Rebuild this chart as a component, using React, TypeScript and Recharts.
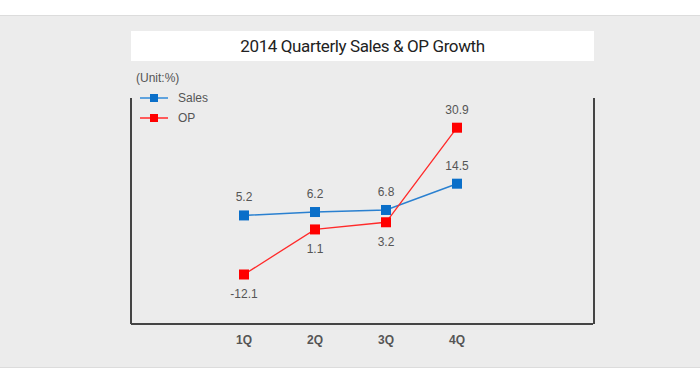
import React from "react";
import { LineChart, Line, XAxis, YAxis, LabelList } from "recharts";

const quarters = ["1Q", "2Q", "3Q", "4Q"];
const salesGrowth = [5.2, 6.2, 6.8, 14.5];
const opGrowth = [-12.1, 1.1, 3.2, 30.9];

const chartData = quarters.map((q, i) => ({
    q,
    sales: salesGrowth[i],
    op: opGrowth[i],
}));

const labelFont = "'Liberation Sans', Arial, sans-serif";

const SquareDot = (color: string) => (props: any) => {
    const { cx, cy, index } = props;
    if (cx == null || cy == null) return <g key={index} />;
    return <rect key={index} x={cx - 5} y={cy - 5} width={10} height={10} fill={color} />;
};

const SalesLabel = (props: any) => {
    const { x, y, value } = props;
    return (
        <text x={x} y={y - 14} textAnchor="middle" fill="#555" fontSize={12} fontFamily={labelFont}>
            {value}
        </text>
    );
};

// OP labels sit under the point, except the last one which goes on top
const OpLabel = (props: any) => {
    const { x, y, value, index } = props;
    const above = index === quarters.length - 1;
    return (
        <text
            x={x}
            y={above ? y - 14 : y + 24}
            textAnchor="middle"
            fill="#555"
            fontSize={12}
            fontFamily={labelFont}
        >
            {value}
        </text>
    );
};

const LegendBox = () => {
    const items = [
        { name: "Sales", line: "#5fa3de", box: "#0a6fc9" },
        { name: "OP", line: "#ff5a5a", box: "#ff0000" },
    ];
    return (
        <div>
            {items.map((it) => (
                <div key={it.name} style={{ display: "flex", alignItems: "center", height: 20 }}>
                    <svg width={28} height={10}>
                        <line x1={0} x2={28} y1={5} y2={5} stroke={it.line} strokeWidth={2} />
                        <rect x={10} y={1} width={8} height={8} fill={it.box} />
                    </svg>
                    <span
                        style={{
                            marginLeft: 10,
                            fontSize: 12,
                            color: "#555",
                            fontFamily: labelFont,
                        }}
                    >
                        {it.name}
                    </span>
                </div>
            ))}
        </div>
    );
};

export default function App() {
    return (
        <div
            style={{
                position: "absolute",
                left: 0,
                top: 0,
                width: 700,
                height: 370,
                background: "#fff",
                overflow: "hidden",
            }}
        >
            <div
                style={{
                    position: "absolute",
                    left: 0,
                    top: 15,
                    width: 700,
                    height: 353,
                    background: "#ececec",
                    borderTop: "1px solid #dcdcdc",
                    borderBottom: "1px solid #dcdcdc",
                    boxSizing: "border-box",
                }}
            />
            <div
                style={{
                    position: "absolute",
                    left: 131,
                    top: 31,
                    width: 463,
                    height: 30,
                    background: "#fff",
                    textAlign: "center",
                    lineHeight: "30px",
                    fontFamily: "Roboto, sans-serif",
                    fontSize: 17,
                    letterSpacing: -0.4,
                    color: "#222",
                }}
            >
                2014 Quarterly Sales &amp; OP Growth
            </div>
            <div
                style={{
                    position: "absolute",
                    left: 136,
                    top: 71,
                    fontSize: 12,
                    color: "#555",
                    fontFamily: labelFont,
                }}
            >
                (Unit:%)
            </div>
            {/* side rules of the plot frame */}
            <div
                style={{
                    position: "absolute",
                    left: 130,
                    top: 98,
                    width: 461,
                    height: 226,
                    borderLeft: "2px solid #444",
                    borderRight: "2px solid #444",
                }}
            />
            <div style={{ position: "absolute", left: 140, top: 88 }}>
                <LegendBox />
            </div>
            <div style={{ position: "absolute", left: 0, top: 0 }}>
                <LineChart
                    width={700}
                    height={370}
                    data={chartData}
                    margin={{ top: 98, right: 107, left: 131, bottom: 0 }}
                >
                    <XAxis
                        dataKey="q"
                        padding={{ left: 113, right: 136 }}
                        axisLine={{ stroke: "#444", strokeWidth: 2 }}
                        tickLine={false}
                        tickMargin={5}
                        height={46}
                        tick={{ fill: "#555", fontSize: 12, fontWeight: "bold", fontFamily: labelFont }}
                    />
                    <YAxis hide domain={[-26.6, 39.6]} />
                    <Line
                        dataKey="sales"
                        name="Sales"
                        stroke="#2a80d0"
                        strokeWidth={1.5}
                        dot={SquareDot("#0a6fc9")}
                        activeDot={false}
                        isAnimationActive={false}
                    >
                        <LabelList dataKey="sales" content={<SalesLabel />} />
                    </Line>
                    <Line
                        dataKey="op"
                        name="OP"
                        stroke="#ff2a2a"
                        strokeWidth={1.3}
                        dot={SquareDot("#ff0000")}
                        activeDot={false}
                        isAnimationActive={false}
                    >
                        <LabelList dataKey="op" content={<OpLabel />} />
                    </Line>
                </LineChart>
            </div>
        </div>
    );
}
